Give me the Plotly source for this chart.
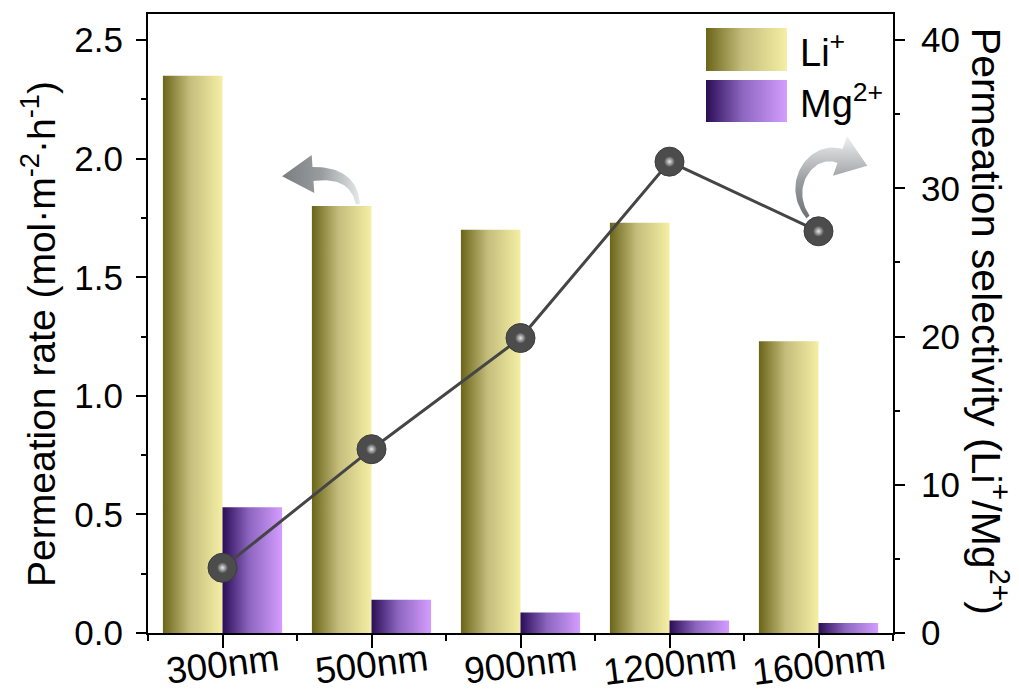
import numpy as np
import plotly.graph_objects as go

# ---------------- data ----------------
categories = ["300nm", "500nm", "900nm", "1200nm", "1600nm"]
li_rate = [2.35, 1.80, 1.70, 1.73, 1.23]
mg_rate = [0.53, 0.14, 0.086, 0.053, 0.042]
selectivity = [4.4, 12.4, 19.9, 31.8, 27.1]
y_ticks = [0.0, 0.5, 1.0, 1.5, 2.0, 2.5]
y2_ticks = [0, 10, 20, 30, 40]

FONT = "Arial, Liberation Sans, sans-serif"
LI_SCALE = [[0, "#6a6519"], [0.45, "#c4bd7c"], [1, "#f4efa4"]]
MG_SCALE = [[0, "#2b0d57"], [0.45, "#8d66c0"], [1, "#d49dff"]]

BAR_W = 0.4
fig = go.Figure()

# bars drawn as gradient-filled polygons on the numeric category axis
for i, (li, mg) in enumerate(zip(li_rate, mg_rate)):
    for x0, v, cs in ((i - BAR_W, li, LI_SCALE), (i, mg, MG_SCALE)):
        x1 = x0 + BAR_W
        fig.add_trace(go.Scatter(
            x=[x0, x0, x1, x1, x0], y=[0, v, v, 0, 0],
            mode="lines", fill="toself", line=dict(width=0),
            fillgradient=dict(type="horizontal", colorscale=cs),
            hoverinfo="skip", showlegend=False))

# selectivity line + sphere-like markers on the right axis
xs = list(range(len(categories)))
fig.add_trace(go.Scatter(x=xs, y=selectivity, yaxis="y2", mode="lines",
                         line=dict(color="#454545", width=3), showlegend=False))
fig.add_trace(go.Scatter(x=xs, y=selectivity, yaxis="y2", mode="markers",
                         marker=dict(size=29, color="#4c4c4c",
                                     line=dict(color="#3c3c3c", width=1)),
                         showlegend=False))
fig.add_trace(go.Scatter(x=xs, y=selectivity, yaxis="y2", mode="markers",
                         marker=dict(size=11, color="#4c4c4c",
                                     gradient=dict(type="radial", color="#e8e8e8"),
                                     line=dict(width=0)),
                         showlegend=False, hoverinfo="skip"))

# ---------------- decorations on a pixel-like overlay axis ----------------
def arrow(p0, p1, p2, p3, w_tail, w_head, head_half, head_len, n=40):
    t = np.linspace(0, 1, n)[:, None]
    P = [np.array(p, float) for p in (p0, p1, p2, p3)]
    pts = ((1 - t) ** 3) * P[0] + 3 * ((1 - t) ** 2) * t * P[1] + 3 * (1 - t) * t ** 2 * P[2] + t ** 3 * P[3]
    d = 3 * ((1 - t) ** 2) * (P[1] - P[0]) + 6 * (1 - t) * t * (P[2] - P[1]) + 3 * t ** 2 * (P[3] - P[2])
    d = d / np.linalg.norm(d, axis=1, keepdims=True)
    nrm = np.column_stack([-d[:, 1], d[:, 0]])
    w = (w_tail + (w_head - w_tail) * t) / 2
    left = pts + nrm * w
    right = pts - nrm * w
    end, de, ne = pts[-1], d[-1], nrm[-1]
    tip = end + de * head_len
    head = [end + ne * head_half, tip, end - ne * head_half]
    poly = np.vstack([left, head, right[::-1], left[:1]])
    return poly[:, 0], poly[:, 1]

ax_, ay_ = arrow((358, 204), (355, 184), (342, 172), (313, 174), 4, 14, 19, 31)
fig.add_trace(go.Scatter(x=ax_, y=ay_, xaxis="x3", yaxis="y3", mode="lines",
                         fill="toself", line=dict(width=0),
                         fillgradient=dict(type="horizontal",
                                           colorscale=[[0, "#7b7e81"], [0.5, "#999c9f"], [1, "#e6e9ea"]]),
                         hoverinfo="skip", showlegend=False))
bx_, by_ = arrow((808, 217), (784, 185), (812, 146), (840, 156), 4, 15, 21, 29)
fig.add_trace(go.Scatter(x=bx_, y=by_, xaxis="x3", yaxis="y3", mode="lines",
                         fill="toself", line=dict(width=0),
                         fillgradient=dict(type="vertical",
                                           colorscale=[[0, "#6e7174"], [0.45, "#9a9da0"], [1, "#eef0f1"]]),
                         hoverinfo="skip", showlegend=False))

# legend swatches
for (y0, y1), cs in (((28, 71), LI_SCALE), ((80, 122), MG_SCALE)):
    fig.add_trace(go.Scatter(x=[706, 706, 787, 787, 706], y=[y1, y0, y0, y1, y1],
                             xaxis="x3", yaxis="y3", mode="lines", fill="toself",
                             line=dict(width=0),
                             fillgradient=dict(type="horizontal", colorscale=cs),
                             hoverinfo="skip", showlegend=False))

annotations = [
    dict(x=798, y=50, xref="x3", yref="y3", text="Li<sup>+</sup>", showarrow=False,
         xanchor="left", yanchor="middle", font=dict(size=38, color="black", family=FONT)),
    dict(x=798, y=101, xref="x3", yref="y3", text="Mg<sup>2+</sup>", showarrow=False,
         xanchor="left", yanchor="middle", font=dict(size=38, color="black", family=FONT)),
    dict(x=-0.147, y=0.484, xref="paper", yref="paper", textangle=-90, showarrow=False,
         xanchor="center", yanchor="middle",
         text="Permeation rate (mol·m<sup>-2</sup>·h<sup>-1</sup>)",
         font=dict(size=39, color="black", family=FONT)),
    dict(x=1.13, y=0.503, xref="paper", yref="paper", textangle=90, showarrow=False,
         xanchor="center", yanchor="middle",
         text="Permeation selectivity (Li<sup>+</sup>/Mg<sup>2+</sup>)",
         font=dict(size=41, color="black", family=FONT)),
]
for i, lab in enumerate(categories):
    annotations.append(dict(x=i, y=-0.051, xref="x", yref="paper", text=lab, showarrow=False,
                            textangle=-7, xanchor="center", yanchor="middle", borderpad=0,
                            font=dict(size=37, color="black", family=FONT)))

axis_common = dict(showgrid=False, zeroline=False, showline=True, linecolor="black",
                   linewidth=2, ticks="outside", tickcolor="black", tickwidth=2,
                   tickfont=dict(size=35, color="black", family=FONT))

fig.update_layout(
    width=1019, height=693,
    margin=dict(l=148, r=126, t=14, b=60),
    paper_bgcolor="white", plot_bgcolor="white",
    showlegend=False,
    annotations=annotations,
    xaxis=dict(**axis_common, range=[-0.5, 4.5], tickvals=xs, showticklabels=False,
               ticklen=13, mirror=True,
               minor=dict(tick0=-0.5, dtick=1, ticks="outside", ticklen=6,
                          tickwidth=2, tickcolor="black")),
    yaxis=dict(**axis_common, range=[0, 2.61], tickvals=y_ticks, tickformat=".1f",
               ticklen=10, ticklabelstandoff=6,
               minor=dict(dtick=0.25, ticks="outside", ticklen=5, tickwidth=2,
                          tickcolor="black")),
    yaxis2=dict(**axis_common, range=[0, 41.76], tickvals=y2_ticks, overlaying="y",
                side="right", ticklen=10, ticklabelstandoff=9,
                minor=dict(dtick=5, ticks="outside", ticklen=5, tickwidth=2,
                           tickcolor="black")),
    xaxis3=dict(overlaying="x", range=[148, 893], visible=False, anchor="y3"),
    yaxis3=dict(overlaying="y", range=[633, 14], visible=False, anchor="x3"),
)

fig.write_html("out.html", config={"displayModeBar": False},
               post_script="document.body.style.margin='0';document.body.style.overflow='hidden';")
